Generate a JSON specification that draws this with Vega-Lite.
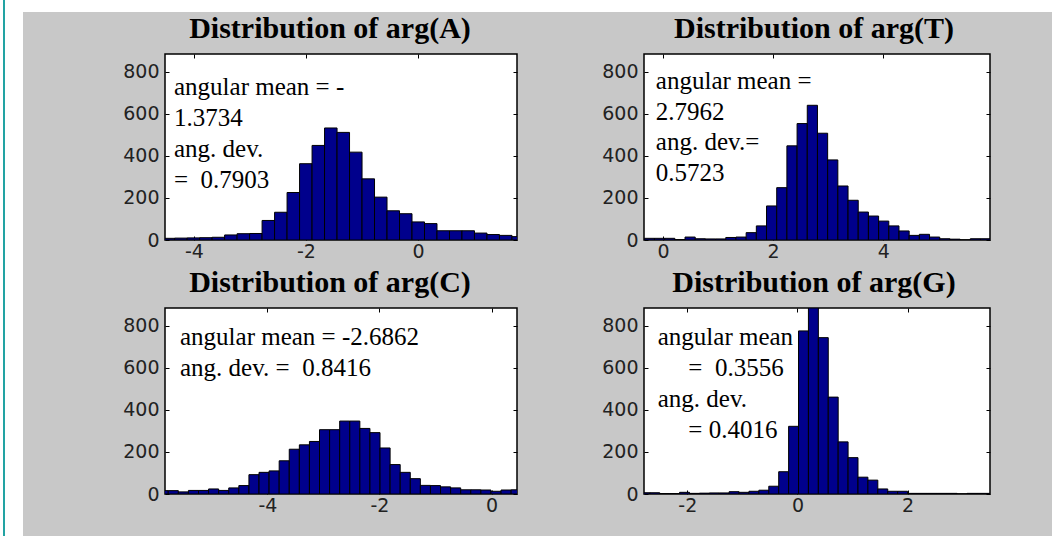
{
  "$schema": "https://vega.github.io/schema/vega-lite/v6.json",
  "background": "#c8c8c8",
  "padding": 0,
  "autosize": {"type": "pad"},
  "config": {
    "view": {"stroke": null},
    "axis": {
      "grid": false,
      "domain": false,
      "title": null,
      "tickColor": "#000000",
      "tickSize": -4,
      "tickWidth": 1,
      "labelFont": "DejaVu Sans",
      "labelFontSize": 19,
      "labelColor": "#222222"
    },
    "axisX": {"labelPadding": 6},
    "axisY": {"labelPadding": 10},
    "title": {
      "font": "Liberation Serif",
      "fontSize": 30,
      "fontWeight": "bold",
      "color": "#000000",
      "frame": "group",
      "anchor": "middle",
      "offset": 10
    },
    "text": {"font": "Liberation Serif", "fontSize": 25, "color": "#000000", "align": "left", "baseline": "alphabetic", "lineHeight": 31}
  },
  "datasets": {
    "argA": [
      {"x0": -4.566, "x1": -4.343, "count": 8},
      {"x0": -4.343, "x1": -4.120, "count": 9},
      {"x0": -4.120, "x1": -3.897, "count": 10},
      {"x0": -3.897, "x1": -3.674, "count": 11},
      {"x0": -3.674, "x1": -3.451, "count": 13},
      {"x0": -3.451, "x1": -3.228, "count": 24},
      {"x0": -3.228, "x1": -3.005, "count": 30},
      {"x0": -3.005, "x1": -2.782, "count": 31},
      {"x0": -2.782, "x1": -2.559, "count": 93},
      {"x0": -2.559, "x1": -2.336, "count": 132},
      {"x0": -2.336, "x1": -2.113, "count": 226},
      {"x0": -2.113, "x1": -1.890, "count": 363},
      {"x0": -1.890, "x1": -1.667, "count": 450},
      {"x0": -1.667, "x1": -1.444, "count": 533},
      {"x0": -1.444, "x1": -1.221, "count": 512},
      {"x0": -1.221, "x1": -0.998, "count": 418},
      {"x0": -0.998, "x1": -0.775, "count": 291},
      {"x0": -0.775, "x1": -0.552, "count": 204},
      {"x0": -0.552, "x1": -0.329, "count": 139},
      {"x0": -0.329, "x1": -0.106, "count": 125},
      {"x0": -0.106, "x1": 0.117, "count": 86},
      {"x0": 0.117, "x1": 0.340, "count": 78},
      {"x0": 0.340, "x1": 0.563, "count": 44},
      {"x0": 0.563, "x1": 0.786, "count": 44},
      {"x0": 0.786, "x1": 1.009, "count": 44},
      {"x0": 1.009, "x1": 1.232, "count": 33},
      {"x0": 1.232, "x1": 1.455, "count": 26},
      {"x0": 1.455, "x1": 1.678, "count": 22},
      {"x0": 1.678, "x1": 1.901, "count": 16}
    ],
    "argT": [
      {"x0": -0.340, "x1": -0.155, "count": 8},
      {"x0": -0.155, "x1": 0.030, "count": 8},
      {"x0": 0.030, "x1": 0.215, "count": 8},
      {"x0": 0.215, "x1": 0.400, "count": 2},
      {"x0": 0.400, "x1": 0.585, "count": 14},
      {"x0": 0.585, "x1": 0.770, "count": 6},
      {"x0": 0.770, "x1": 0.955, "count": 5},
      {"x0": 0.955, "x1": 1.140, "count": 5},
      {"x0": 1.140, "x1": 1.325, "count": 12},
      {"x0": 1.325, "x1": 1.510, "count": 14},
      {"x0": 1.510, "x1": 1.695, "count": 35},
      {"x0": 1.695, "x1": 1.880, "count": 67},
      {"x0": 1.880, "x1": 2.065, "count": 162},
      {"x0": 2.065, "x1": 2.250, "count": 249},
      {"x0": 2.250, "x1": 2.435, "count": 448},
      {"x0": 2.435, "x1": 2.620, "count": 554},
      {"x0": 2.620, "x1": 2.805, "count": 641},
      {"x0": 2.805, "x1": 2.990, "count": 508},
      {"x0": 2.990, "x1": 3.175, "count": 381},
      {"x0": 3.175, "x1": 3.360, "count": 257},
      {"x0": 3.360, "x1": 3.545, "count": 189},
      {"x0": 3.545, "x1": 3.730, "count": 133},
      {"x0": 3.730, "x1": 3.915, "count": 114},
      {"x0": 3.915, "x1": 4.100, "count": 90},
      {"x0": 4.100, "x1": 4.285, "count": 67},
      {"x0": 4.285, "x1": 4.470, "count": 43},
      {"x0": 4.470, "x1": 4.655, "count": 22},
      {"x0": 4.655, "x1": 4.840, "count": 27},
      {"x0": 4.840, "x1": 5.025, "count": 14},
      {"x0": 5.025, "x1": 5.210, "count": 6},
      {"x0": 5.210, "x1": 5.395, "count": 4},
      {"x0": 5.395, "x1": 5.580, "count": 0},
      {"x0": 5.580, "x1": 5.765, "count": 6},
      {"x0": 5.765, "x1": 5.950, "count": 6}
    ],
    "argC": [
      {"x0": -5.95, "x1": -5.77, "count": 16},
      {"x0": -5.77, "x1": -5.59, "count": 16},
      {"x0": -5.59, "x1": -5.41, "count": 10},
      {"x0": -5.41, "x1": -5.23, "count": 17},
      {"x0": -5.23, "x1": -5.05, "count": 17},
      {"x0": -5.05, "x1": -4.87, "count": 24},
      {"x0": -4.87, "x1": -4.69, "count": 17},
      {"x0": -4.69, "x1": -4.51, "count": 29},
      {"x0": -4.51, "x1": -4.33, "count": 40},
      {"x0": -4.33, "x1": -4.15, "count": 92},
      {"x0": -4.15, "x1": -3.97, "count": 103},
      {"x0": -3.97, "x1": -3.79, "count": 110},
      {"x0": -3.79, "x1": -3.61, "count": 158},
      {"x0": -3.61, "x1": -3.43, "count": 213},
      {"x0": -3.43, "x1": -3.25, "count": 234},
      {"x0": -3.25, "x1": -3.07, "count": 250},
      {"x0": -3.07, "x1": -2.89, "count": 306},
      {"x0": -2.89, "x1": -2.71, "count": 306},
      {"x0": -2.71, "x1": -2.53, "count": 347},
      {"x0": -2.53, "x1": -2.35, "count": 347},
      {"x0": -2.35, "x1": -2.17, "count": 312},
      {"x0": -2.17, "x1": -1.99, "count": 292},
      {"x0": -1.99, "x1": -1.81, "count": 219},
      {"x0": -1.81, "x1": -1.63, "count": 140},
      {"x0": -1.63, "x1": -1.45, "count": 103},
      {"x0": -1.45, "x1": -1.27, "count": 73},
      {"x0": -1.27, "x1": -1.09, "count": 41},
      {"x0": -1.09, "x1": -0.91, "count": 40},
      {"x0": -0.91, "x1": -0.73, "count": 34},
      {"x0": -0.73, "x1": -0.55, "count": 29},
      {"x0": -0.55, "x1": -0.37, "count": 20},
      {"x0": -0.37, "x1": -0.19, "count": 20},
      {"x0": -0.19, "x1": -0.01, "count": 19},
      {"x0": -0.01, "x1": 0.17, "count": 13},
      {"x0": 0.17, "x1": 0.35, "count": 19},
      {"x0": 0.35, "x1": 0.53, "count": 20}
    ],
    "argG": [
      {"x0": -2.86, "x1": -2.68, "count": 6},
      {"x0": -2.68, "x1": -2.50, "count": 6},
      {"x0": -2.50, "x1": -2.32, "count": 2},
      {"x0": -2.32, "x1": -2.14, "count": 2},
      {"x0": -2.14, "x1": -1.96, "count": 8},
      {"x0": -1.96, "x1": -1.78, "count": 3},
      {"x0": -1.78, "x1": -1.60, "count": 4},
      {"x0": -1.60, "x1": -1.42, "count": 5},
      {"x0": -1.42, "x1": -1.24, "count": 5},
      {"x0": -1.24, "x1": -1.06, "count": 11},
      {"x0": -1.06, "x1": -0.88, "count": 8},
      {"x0": -0.88, "x1": -0.70, "count": 13},
      {"x0": -0.70, "x1": -0.52, "count": 18},
      {"x0": -0.52, "x1": -0.34, "count": 37},
      {"x0": -0.34, "x1": -0.16, "count": 106},
      {"x0": -0.16, "x1": 0.02, "count": 322},
      {"x0": 0.02, "x1": 0.20, "count": 776},
      {"x0": 0.20, "x1": 0.38, "count": 885},
      {"x0": 0.38, "x1": 0.56, "count": 744},
      {"x0": 0.56, "x1": 0.74, "count": 461},
      {"x0": 0.74, "x1": 0.92, "count": 248},
      {"x0": 0.92, "x1": 1.10, "count": 173},
      {"x0": 1.10, "x1": 1.28, "count": 80},
      {"x0": 1.28, "x1": 1.46, "count": 66},
      {"x0": 1.46, "x1": 1.64, "count": 24},
      {"x0": 1.64, "x1": 1.82, "count": 13},
      {"x0": 1.82, "x1": 2.00, "count": 13},
      {"x0": 2.00, "x1": 2.18, "count": 3},
      {"x0": 2.18, "x1": 2.36, "count": 3},
      {"x0": 2.36, "x1": 2.54, "count": 3},
      {"x0": 2.54, "x1": 2.72, "count": 3},
      {"x0": 2.72, "x1": 2.90, "count": 3},
      {"x0": 2.90, "x1": 3.08, "count": 0},
      {"x0": 3.08, "x1": 3.26, "count": 3},
      {"x0": 3.26, "x1": 3.44, "count": 3},
      {"x0": 3.44, "x1": 3.62, "count": 3}
    ]
  },
  "spacing": 0,
  "hconcat": [
    {
      "spacing": 0,
      "hconcat": [
        {"width": 3, "height": 536, "data": {"values": [{}]}, "mark": {"type": "point", "opacity": 0, "size": 0}, "encoding": {}, "view": {"fill": "#ffffff", "stroke": null}},
        {"width": 2, "height": 536, "data": {"values": [{}]}, "mark": {"type": "point", "opacity": 0, "size": 0}, "encoding": {}, "view": {"fill": "#22a3a3", "stroke": null}},
        {"width": 18, "height": 536, "data": {"values": [{}]}, "mark": {"type": "point", "opacity": 0, "size": 0}, "encoding": {}, "view": {"fill": "#ffffff", "stroke": null}}
      ]
    },
    {
      "spacing": 0,
      "vconcat": [
        {"width": 1029, "height": 12, "data": {"values": [{}]}, "mark": {"type": "point", "opacity": 0, "size": 0}, "encoding": {}, "view": {"fill": "#ffffff", "stroke": null}},
        {
          "spacing": 97,
          "hconcat": [
            {"width": 1, "height": 1, "data": {"values": [{}]}, "mark": {"type": "point", "opacity": 0, "size": 0}, "encoding": {}, "view": {"fill": null, "stroke": null}},
            {
              "spacing": 4,
              "vconcat": [
                {
                  "spacing": 81,
                  "hconcat": [
                    {
                      "width": 352, "height": 186,
                      "title": {"text": "Distribution of arg(A)", "dx": -11},
                      "view": {"fill": "#ffffff", "stroke": "#000000", "strokeWidth": 1.5},
                      "resolve": {"axis": {"x": "independent", "y": "independent"}},
                      "layer": [
                        {
                          "data": {"name": "argA"},
                          "mark": {"type": "bar", "clip": true, "fill": "#00008c", "stroke": "#000000", "strokeWidth": 1},
                          "encoding": {
                            "x": {"field": "x0", "type": "quantitative", "scale": {"domain": [-4.515, 1.768], "nice": false, "zero": false}, "axis": {"orient": "bottom", "values": [-4, -2, 0], "labelExpr": "'' + datum.value"}},
                            "x2": {"field": "x1"},
                            "y": {"field": "count", "type": "quantitative", "scale": {"domain": [0, 885], "nice": false}, "axis": {"orient": "left", "values": [0, 200, 400, 600, 800]}},
                            "y2": {"datum": 0}
                          }
                        },
                        {
                          "data": {"values": [{"note": "angular mean = -\n1.3734\nang. dev.\n=\u00a0 0.7903"}]},
                          "mark": {"type": "text", "lineBreak": "\n"},
                          "encoding": {
                            "x": {"datum": -4.354, "type": "quantitative", "scale": {"domain": [-4.515, 1.768], "nice": false, "zero": false}, "axis": {"orient": "top", "values": [-4, -2, 0], "labels": false}},
                            "y": {"datum": 690, "type": "quantitative", "scale": {"domain": [0, 885], "nice": false}, "axis": {"orient": "right", "values": [0, 200, 400, 600, 800], "labels": false}},
                            "text": {"field": "note"}
                          }
                        }
                      ]
                    },
                    {
                      "width": 346, "height": 186,
                      "title": {"text": "Distribution of arg(T)", "dx": -3},
                      "view": {"fill": "#ffffff", "stroke": "#000000", "strokeWidth": 1.5},
                      "resolve": {"axis": {"x": "independent", "y": "independent"}},
                      "layer": [
                        {
                          "data": {"name": "argT"},
                          "mark": {"type": "bar", "clip": true, "fill": "#00008c", "stroke": "#000000", "strokeWidth": 1},
                          "encoding": {
                            "x": {"field": "x0", "type": "quantitative", "scale": {"domain": [-0.345, 5.938], "nice": false, "zero": false}, "axis": {"orient": "bottom", "values": [0, 2, 4], "labelExpr": "'' + datum.value"}},
                            "x2": {"field": "x1"},
                            "y": {"field": "count", "type": "quantitative", "scale": {"domain": [0, 885], "nice": false}, "axis": {"orient": "left", "values": [0, 200, 400, 600, 800]}},
                            "y2": {"datum": 0}
                          }
                        },
                        {
                          "data": {"values": [{"note": "angular mean =\n2.7962\nang. dev.=\n0.5723"}]},
                          "mark": {"type": "text", "lineBreak": "\n", "lineHeight": 30.5},
                          "encoding": {
                            "x": {"datum": -0.13, "type": "quantitative", "scale": {"domain": [-0.345, 5.938], "nice": false, "zero": false}, "axis": {"orient": "top", "values": [0, 2, 4], "labels": false}},
                            "y": {"datum": 718, "type": "quantitative", "scale": {"domain": [0, 885], "nice": false}, "axis": {"orient": "right", "values": [0, 200, 400, 600, 800], "labels": false}},
                            "text": {"field": "note"}
                          }
                        }
                      ]
                    }
                  ]
                },
                {
                  "spacing": 81,
                  "hconcat": [
                    {
                      "width": 352, "height": 186,
                      "title": {"text": "Distribution of arg(C)", "dx": -11},
                      "view": {"fill": "#ffffff", "stroke": "#000000", "strokeWidth": 1.5},
                      "resolve": {"axis": {"x": "independent", "y": "independent"}},
                      "layer": [
                        {
                          "data": {"name": "argC"},
                          "mark": {"type": "bar", "clip": true, "fill": "#00008c", "stroke": "#000000", "strokeWidth": 1},
                          "encoding": {
                            "x": {"field": "x0", "type": "quantitative", "scale": {"domain": [-5.828, 0.455], "nice": false, "zero": false}, "axis": {"orient": "bottom", "values": [-4, -2, 0], "labelExpr": "'' + datum.value"}},
                            "x2": {"field": "x1"},
                            "y": {"field": "count", "type": "quantitative", "scale": {"domain": [0, 885], "nice": false}, "axis": {"orient": "left", "values": [0, 200, 400, 600, 800]}},
                            "y2": {"datum": 0}
                          }
                        },
                        {
                          "data": {"values": [{"note": "angular mean = -2.6862\nang. dev. =\u00a0 0.8416"}]},
                          "mark": {"type": "text", "lineBreak": "\n"},
                          "encoding": {
                            "x": {"datum": -5.56, "type": "quantitative", "scale": {"domain": [-5.828, 0.455], "nice": false, "zero": false}, "axis": {"orient": "top", "values": [-4, -2, 0], "labels": false}},
                            "y": {"datum": 708, "type": "quantitative", "scale": {"domain": [0, 885], "nice": false}, "axis": {"orient": "right", "values": [0, 200, 400, 600, 800], "labels": false}},
                            "text": {"field": "note"}
                          }
                        }
                      ]
                    },
                    {
                      "width": 346, "height": 186,
                      "title": {"text": "Distribution of arg(G)", "dx": -3},
                      "view": {"fill": "#ffffff", "stroke": "#000000", "strokeWidth": 1.5},
                      "resolve": {"axis": {"x": "independent", "y": "independent"}},
                      "layer": [
                        {
                          "data": {"name": "argG"},
                          "mark": {"type": "bar", "clip": true, "fill": "#00008c", "stroke": "#000000", "strokeWidth": 1},
                          "encoding": {
                            "x": {"field": "x0", "type": "quantitative", "scale": {"domain": [-2.786, 3.497], "nice": false, "zero": false}, "axis": {"orient": "bottom", "values": [-2, 0, 2], "labelExpr": "'' + datum.value"}},
                            "x2": {"field": "x1"},
                            "y": {"field": "count", "type": "quantitative", "scale": {"domain": [0, 885], "nice": false}, "axis": {"orient": "left", "values": [0, 200, 400, 600, 800]}},
                            "y2": {"datum": 0}
                          }
                        },
                        {
                          "data": {"values": [{"note": "angular mean\nang. dev."}]},
                          "mark": {"type": "text", "lineBreak": "\n", "lineHeight": 62},
                          "encoding": {
                            "x": {"datum": -2.536, "type": "quantitative", "scale": {"domain": [-2.786, 3.497], "nice": false, "zero": false}, "axis": {"orient": "top", "values": [-2, 0, 2], "labels": false}},
                            "y": {"datum": 708, "type": "quantitative", "scale": {"domain": [0, 885], "nice": false}, "axis": {"orient": "right", "values": [0, 200, 400, 600, 800], "labels": false}},
                            "text": {"field": "note"}
                          }
                        },
                        {
                          "data": {"values": [{"note": "=\u00a0 0.3556\n= 0.4016"}]},
                          "mark": {"type": "text", "lineBreak": "\n", "lineHeight": 62},
                          "encoding": {
                            "x": {"datum": -1.981, "type": "quantitative", "scale": {"domain": [-2.786, 3.497], "nice": false, "zero": false}, "axis": null},
                            "y": {"datum": 560, "type": "quantitative", "scale": {"domain": [0, 885], "nice": false}, "axis": null},
                            "text": {"field": "note"}
                          }
                        }
                      ]
                    }
                  ]
                }
              ]
            }
          ]
        }
      ]
    }
  ]
}
